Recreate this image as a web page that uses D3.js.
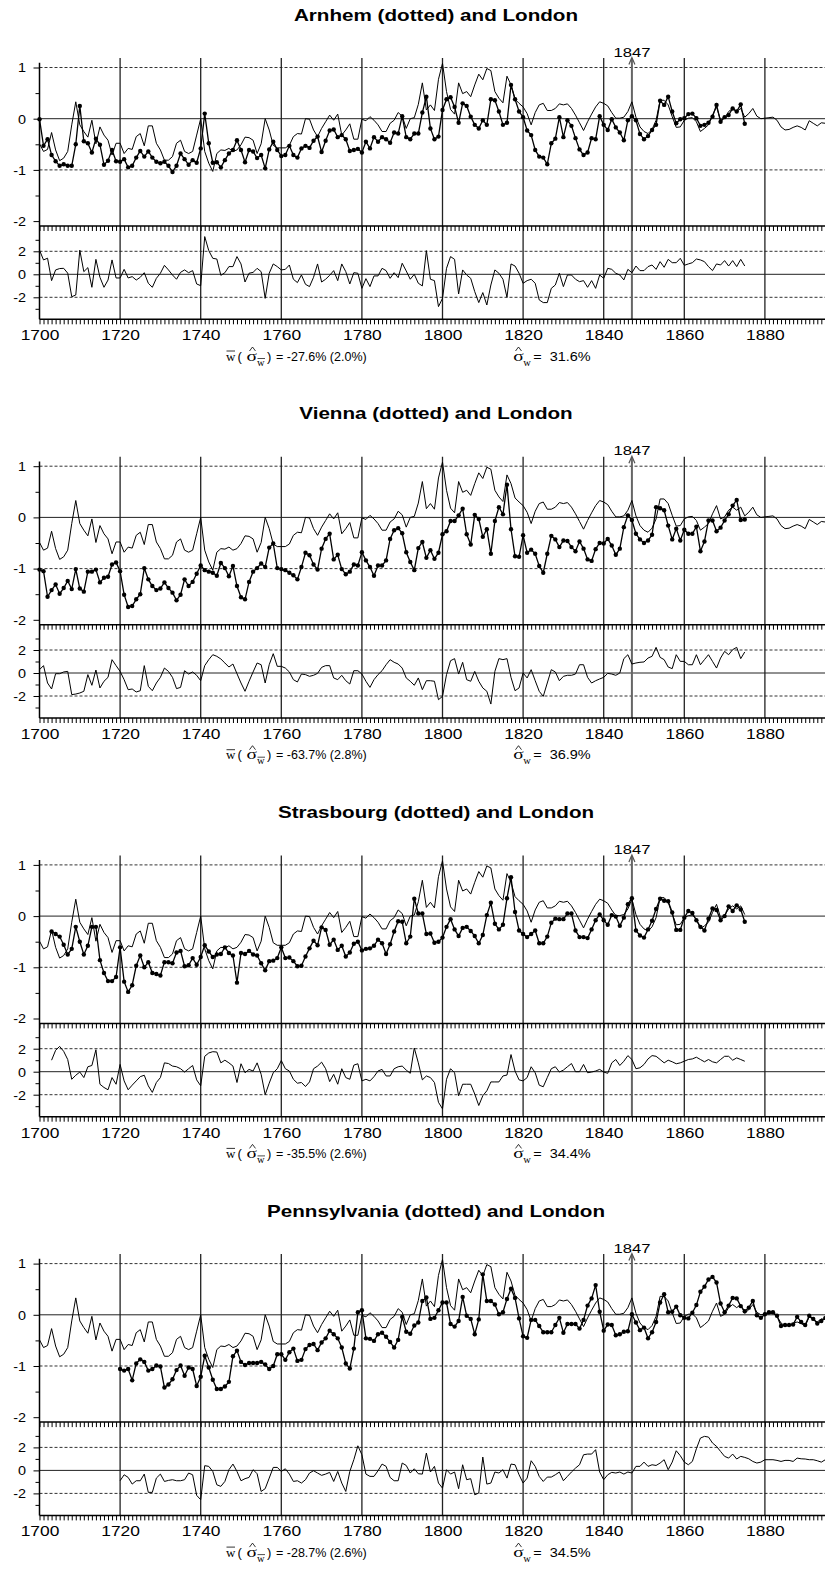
<!DOCTYPE html>
<html>
<head>
<meta charset="utf-8">
<script src="https://cdnjs.cloudflare.com/ajax/libs/d3/7.8.5/d3.min.js"></script>
<style>
  body { margin: 0; background: #fff; }
  svg { display: block; }
  text { font-family: "Liberation Sans", Arial, Helvetica, sans-serif; fill: #000; }
  .serif { font-family: "Liberation Serif", "Times New Roman", serif; }
</style>
</head>
<body>
<div id="chart"></div>
<script>
// London, yearly from 1700 (log deviation, thin line in every panel)
var londonStart = 1700;
var london = [
  -0.49, -0.64, -0.60, -0.27, -0.61, -0.82, -0.77, -0.64, -0.12, 0.33,
  -0.12, -0.25, -0.36, -0.03, -0.49, -0.16, -0.32, -0.42, -0.71, -0.48,
  -0.48, -0.68, -0.58, -0.60, -0.35, -0.29, -0.53, -0.14, -0.14, -0.48,
  -0.61, -0.81, -0.81, -0.74, -0.48, -0.42, -0.64, -0.68, -0.64, -0.32,
  0.00, -0.64, -0.87, -1.03, -0.68, -0.61, -0.62, -0.58, -0.64, -0.61,
  -0.51, -0.36, -0.37, -0.42, -0.68, -0.49, 0.00, -0.22, -0.52, -0.57,
  -0.57, -0.57, -0.52, -0.35, -0.29, -0.30, 0.00, -0.01, -0.22, -0.35,
  -0.19, -0.06, 0.07, -0.03, 0.09, -0.32, -0.22, -0.10, -0.40, -0.40,
  -0.01, -0.04, 0.04, -0.03, -0.12, -0.25, -0.25, -0.09, -0.03, 0.12,
  0.05, -0.19, 0.00, 0.02, 0.28, 0.70, 0.17, 0.27, 0.16, 0.77,
  1.08, 0.53, 0.18, 0.09, 0.70, 0.49, 0.53, 0.43, 0.66, 0.87,
  0.76, 0.98, 0.94, 0.53, 0.40, 0.31, 0.83, 0.66, 0.38, 0.30,
  0.23, 0.10, -0.12, 0.12, 0.27, 0.30, 0.16, 0.16, 0.20, 0.29,
  0.27, 0.29, 0.20, 0.07, -0.08, -0.23, -0.06, 0.09, 0.23, 0.33,
  0.30, 0.25, 0.12, 0.01, 0.01, 0.03, 0.14, 0.33, 0.03, -0.16,
  -0.25, -0.29, -0.21, -0.03, 0.36, 0.36, 0.27, 0.04, -0.17, -0.16,
  -0.03, 0.01, 0.02, -0.06, -0.25, -0.19, -0.12, 0.07, 0.23, -0.03,
  0.01, 0.14, 0.20, 0.14, 0.20, 0.03, 0.10, 0.20, 0.05, 0.00,
  0.01, 0.02, 0.03, -0.03, -0.16, -0.22, -0.21, -0.17, -0.14, -0.17,
  -0.22, -0.04, -0.09, -0.14, -0.08, -0.09
];

// Arnhem
var arnhemStart = 1700;
var arnhem = [
  -0.01, -0.53, -0.40, -0.71, -0.83, -0.92, -0.89, -0.92, -0.92, -0.50,
  0.25, -0.44, -0.48, -0.66, -0.39, -0.51, -0.90, -0.82, -0.61, -0.83,
  -0.84, -0.79, -0.95, -0.92, -0.76, -0.63, -0.74, -0.64, -0.76, -0.84,
  -0.87, -0.84, -0.92, -1.04, -0.92, -0.68, -0.79, -0.90, -0.81, -0.86,
  -0.58, 0.10, -0.48, -0.86, -0.85, -0.95, -0.81, -0.68, -0.61, -0.42,
  -0.61, -0.85, -0.61, -0.64, -0.77, -0.71, -0.97, -0.60, -0.45, -0.61,
  -0.73, -0.71, -0.53, -0.71, -0.76, -0.58, -0.53, -0.57, -0.43, -0.35,
  -0.65, -0.43, -0.23, -0.21, -0.36, -0.32, -0.40, -0.63, -0.61, -0.59,
  -0.66, -0.45, -0.58, -0.36, -0.45, -0.36, -0.40, -0.47, -0.27, -0.29,
  0.05, -0.36, -0.40, -0.29, -0.29, 0.12, 0.43, -0.19, -0.40, -0.35,
  0.17, 0.38, 0.42, 0.23, -0.08, 0.30, 0.25, 0.04, -0.12, -0.19,
  -0.03, -0.12, 0.38, 0.36, 0.14, -0.12, -0.08, 0.66, 0.38, 0.14,
  0.03, -0.23, -0.32, -0.61, -0.74, -0.76, -0.89, -0.48, -0.39, 0.03,
  -0.36, -0.03, -0.14, -0.38, -0.60, -0.71, -0.66, -0.38, -0.40, 0.05,
  -0.12, -0.22, -0.01, -0.17, -0.27, -0.42, -0.03, 0.05, -0.03, -0.30,
  -0.40, -0.34, -0.22, -0.12, 0.35, 0.27, 0.43, 0.14, -0.09, -0.01,
  0.01, 0.09, 0.10, 0.01, -0.14, -0.12, -0.08, 0.04, 0.27, -0.06,
  0.03, 0.07, 0.20, 0.14, 0.28, -0.10
];
var arnhemDiff = [
  2.10, 1.25, 1.40, -0.55, 0.38, 0.50, 0.52, 0.10, -1.95, -1.80,
  2.10, 0.23, 0.58, -1.13, 1.30, -0.26, -1.13, -0.50, 1.25, -0.32,
  -0.32, 0.43, -0.32, -0.20, -0.50, -0.26, 0.14, -0.78, -1.13, -0.35,
  0.09, 0.78, 0.38, -0.06, -0.43, 0.17, 0.38, 0.14, 0.32, -0.84,
  -0.99, 3.28, 2.06, 1.39, 1.33, -0.09, 0.14, 0.67, 0.67, 1.54,
  0.90, -0.67, 0.09, 0.17, 0.52, 0.23, -2.09, 0.09, 0.90, 0.67,
  0.38, 0.43, 0.81, -0.43, -0.72, -0.06, -0.87, -1.07, -0.26, 0.90,
  -0.67, -0.43, -0.09, 0.32, -0.55, 0.90, 0.23, -0.84, 0.14, 0.09,
  -1.22, -0.38, -1.07, -0.14, -0.14, 0.52, 0.32, -0.35, 0.14, -0.29,
  0.96, 0.29, -0.43, 0.00, -0.78, -1.01, 2.06, -0.43, -0.55, -2.81,
  -2.09, 0.52, 1.54, 1.30, -1.71, 0.38, -0.06, -0.35, -1.51, -2.46,
  -1.59, -2.67, -0.93, 0.38, 0.09, -0.43, -2.00, 0.90, 0.72, 0.09,
  -0.78, -0.55, -0.43, -0.78, -2.23, -2.46, -2.46, -1.22, -0.93, 0.09,
  -1.07, -0.06, -0.06, -0.43, -0.64, -0.55, -1.13, -0.55, -1.22, -0.06,
  -0.35, 0.52, 0.43, 0.09, -0.06, -0.49, 0.43, 0.14, 0.72, 0.32,
  0.32, 0.67, 0.81, 0.43, 1.10, 0.61, 1.30, 1.01, 1.01, 1.39,
  0.78, 0.90, 1.01, 1.33, 1.25, 1.10, 0.67, 0.32, 0.90, 0.81,
  1.19, 0.72, 1.19, 0.67, 1.30, 0.72
];

// Vienna
var viennaStart = 1700;
var vienna = [
  -1.02, -1.05, -1.55, -1.42, -1.31, -1.49, -1.38, -1.24, -1.40, -1.01,
  -1.39, -1.45, -1.06, -1.06, -1.02, -1.27, -1.18, -1.16, -0.92, -0.88,
  -1.05, -1.51, -1.75, -1.73, -1.60, -1.50, -0.99, -1.21, -1.34, -1.42,
  -1.39, -1.27, -1.38, -1.47, -1.62, -1.51, -1.21, -1.34, -1.26, -1.10,
  -0.94, -1.03, -1.06, -1.08, -1.14, -0.89, -0.99, -1.15, -0.95, -1.34,
  -1.56, -1.60, -1.26, -1.06, -0.99, -0.90, -0.97, -0.59, -0.51, -0.99,
  -1.01, -1.03, -1.08, -1.13, -1.21, -0.97, -0.69, -0.74, -0.92, -1.02,
  -0.61, -0.42, -0.32, -0.82, -0.73, -1.01, -1.11, -1.06, -0.92, -0.94,
  -0.68, -0.84, -0.97, -1.14, -0.94, -0.94, -0.84, -0.42, -0.25, -0.21,
  -0.31, -0.68, -0.87, -1.03, -0.60, -0.48, -0.79, -0.64, -0.81, -0.69,
  -0.33, -0.27, -0.07, -0.07, 0.04, 0.17, -0.33, -0.53, 0.05, -0.03,
  -0.38, -0.23, -0.71, -0.07, 0.20, 0.06, 0.64, -0.23, -0.76, -0.77,
  -0.35, -0.69, -0.63, -0.71, -0.95, -1.08, -0.71, -0.36, -0.43, -0.58,
  -0.45, -0.46, -0.58, -0.66, -0.47, -0.61, -0.82, -0.85, -0.62, -0.50,
  -0.51, -0.42, -0.55, -0.73, -0.61, -0.19, 0.04, -0.05, -0.32, -0.43,
  -0.50, -0.45, -0.34, 0.20, 0.18, 0.14, -0.16, -0.43, -0.22, -0.45,
  -0.24, -0.32, -0.32, -0.18, -0.66, -0.47, -0.06, -0.06, -0.27, -0.20,
  -0.06, 0.06, 0.23, 0.34, -0.05, -0.04
];
var viennaDiff = [
  0.29, 0.64, -0.87, -1.39, -0.06, -0.06, 0.09, 0.14, -1.88, -1.83,
  -1.74, -1.59, -0.14, -1.07, 0.26, -1.30, -0.72, -0.38, 1.16, 0.64,
  0.14, -0.58, -1.45, -1.39, -1.65, -1.54, 0.64, -1.16, -1.54, -0.87,
  -0.38, 0.43, 0.14, -0.38, -1.36, -1.25, 0.20, -0.09, 0.09, -0.20,
  -0.67, 0.64, 1.16, 1.59, 1.45, 1.22, 0.87, 0.52, 0.78, -0.06,
  -0.87, -1.59, -0.72, 0.09, 0.87, 0.72, -0.87, 0.72, 1.68, 0.58,
  0.58, 0.43, 0.09, -0.58, -0.78, -0.09, -0.14, -0.29, -0.20, -0.03,
  0.49, 0.64, 0.64, -0.43, -0.58, -0.20, -0.67, -0.96, 0.20, 0.20,
  -0.09, -0.72, -1.25, -0.58, -0.14, 0.20, 0.72, 1.16, 0.93, 0.78,
  0.43, -0.43, -0.72, -1.07, -0.43, -1.45, -0.67, -0.67, -0.72, -2.32,
  -2.03, -0.14, 1.07, 1.25, -0.09, 0.93, -0.58, -0.72, 0.14, -0.72,
  -1.30, -1.59, -2.70, 0.14, 1.25, 1.16, 1.25, -0.38, -1.54, -1.30,
  0.00, -0.43, 0.29, -0.67, -1.59, -2.03, -0.87, 0.29, 0.09, -0.67,
  -0.29, -0.20, -0.20, -0.09, 0.72, 0.72, -0.38, -0.87, -0.67, -0.52,
  -0.38, -0.03, -0.09, -0.20, 0.00, 1.25, 1.59, 0.78, 0.87, 0.93,
  0.96, 1.30, 1.45, 2.23, 1.36, 1.16, 0.52, 0.38, 1.59, 1.01,
  1.01, 0.72, 0.72, 1.59, 0.72, 1.16, 1.59, 1.01, 0.43, 1.30,
  1.88, 1.59, 2.03, 2.23, 1.25, 1.83
];

// Strasbourg
var strasbourgStart = 1703;
var strasbourg = [
  -0.30, -0.35, -0.40, -0.56, -0.75, -0.64, -0.21,
  -0.50, -0.75, -0.58, -0.21, -0.21, -0.86, -1.11, -1.27, -1.27, -1.19,
  -0.61, -1.28, -1.48, -1.35, -0.97, -0.77, -1.00, -0.90, -1.11, -1.13,
  -1.16, -0.90, -0.90, -0.92, -0.71, -0.68, -0.98, -0.96, -0.82, -0.95,
  -0.80, -0.57, -0.69, -0.80, -0.75, -0.74, -0.61, -0.72, -0.77, -1.30,
  -0.72, -0.74, -0.68, -0.75, -0.77, -0.92, -1.06, -0.88, -0.87, -0.82,
  -0.61, -0.82, -0.81, -0.88, -0.98, -0.97, -0.79, -0.63, -0.48, -0.57,
  -0.22, -0.27, -0.56, -0.46, -0.66, -0.58, -0.79, -0.71, -0.54, -0.50,
  -0.67, -0.64, -0.63, -0.58, -0.46, -0.53, -0.74, -0.55, -0.30, -0.10,
  -0.11, -0.53, -0.40, 0.34, 0.05, 0.05, -0.35, -0.34, -0.52, -0.50,
  -0.42, -0.21, -0.06, -0.26, -0.39, -0.23, -0.21, -0.29, -0.39, -0.53,
  -0.37, 0.02, 0.26, -0.15, -0.26, -0.17, 0.35, 0.76, 0.08, -0.28,
  -0.35, -0.41, -0.35, -0.28, -0.53, -0.53, -0.40, -0.13, -0.05, -0.06,
  -0.06, 0.05, 0.05, -0.28, -0.41, -0.41, -0.43, -0.26, -0.08, 0.03,
  -0.08, -0.17, 0.02, -0.01, -0.19, -0.03, 0.23, 0.35, -0.28, -0.38,
  -0.42, -0.26, -0.09, 0.14, 0.34, 0.30, 0.29, 0.07, -0.27, -0.27,
  -0.03, 0.10, 0.06, -0.08, -0.21, -0.28, -0.05, 0.15, 0.12, -0.08,
  0.00, 0.19, 0.10, 0.21, 0.13, -0.11
];
var strasbourgDiff = [
  1.00, 1.86, 2.20, 1.77, 1.06, -0.66, -0.31,
  -0.03, -0.51, 0.43, 0.54, 1.91, -1.09, -1.37, -1.57, -0.51, -1.09,
  0.63, -0.80, -1.57, -1.17, -0.80, -0.43, -0.31, -1.23, -1.80, -0.94,
  -0.51, 0.77, 0.71, 0.49, 0.43, 0.26, -0.03, 0.26, 0.54, -0.71,
  -1.23, 1.34, 1.63, 1.74, 1.71, 0.77, 1.00, 0.77, 0.49, -0.94,
  0.69, -0.09, 0.20, 0.06, 0.77, -0.23, -2.00, -1.00, -0.09, 0.26,
  0.97, 0.26, 0.06, -0.66, -1.00, -0.94, -1.29, -0.89, 0.26, 0.49,
  0.83, 0.26, -0.86, -0.23, -1.09, 0.26, -0.51, -0.66, 0.57, 0.69,
  -0.80, -0.66, -0.80, -0.43, 0.06, 0.20, -0.37, -0.37, 0.26, 0.43,
  0.49, 0.14, -0.14, 2.06, 0.77, -0.71, -0.37, -0.51, -0.94, -2.66,
  -3.23, -0.66, 0.26, -0.09, -2.09, -1.09, -1.09, -1.09, -1.94, -2.94,
  -2.09, -1.66, -0.89, -0.89, -0.89, -0.37, -0.29, 1.49, 0.06, -0.71,
  -0.80, -0.51, 0.43, -0.09, -1.17, -1.31, -0.51, 0.26, 0.43, -0.03,
  0.14, 0.43, 0.71, 0.00, 0.00, 0.63, -0.09, -0.03, 0.06, 0.20,
  -0.03, -0.14, 0.77, 1.06, 0.54, 0.91, 1.40, 1.06, 0.26, 0.34,
  0.63, 1.11, 1.40, 1.34, 1.06, 0.77, 1.00, 0.86, 0.69, 0.77,
  0.91, 1.06, 1.11, 1.26, 1.06, 0.86, 1.06, 0.86, 0.77, 1.06,
  1.34, 1.34, 1.00, 1.20, 1.06, 0.91
];

// Pennsylvania
var pennStart = 1720;
var penn = [
  -1.06, -1.09, -1.06, -1.28, -0.95, -0.87, -0.92, -1.09, -1.06, -0.99,
  -1.01, -1.42, -1.36, -1.26, -1.08, -0.99, -1.19, -1.03, -1.06, -1.39,
  -1.21, -0.80, -1.03, -1.27, -1.45, -1.45, -1.40, -1.31, -0.81, -0.70,
  -0.92, -0.98, -0.94, -0.94, -0.94, -0.92, -0.97, -1.06, -1.00, -0.77,
  -0.77, -0.88, -0.73, -0.66, -0.90, -0.88, -0.67, -0.59, -0.57, -0.69,
  -0.54, -0.46, -0.31, -0.38, -0.46, -0.64, -0.95, -1.05, -0.66, 0.05,
  0.09, -0.46, -0.47, -0.51, -0.38, -0.35, -0.43, -0.53, -0.64, -0.49,
  -0.04, -0.33, -0.37, -0.21, -0.15, 0.27, 0.34, -0.08, -0.06, 0.09,
  0.24, 0.24, -0.18, -0.23, -0.12, 0.35, -0.02, -0.08, -0.38, -0.09,
  0.79, 0.27, 0.27, 0.20, 0.01, 0.05, 0.31, 0.51, 0.33, -0.07,
  -0.42, -0.45, -0.10, -0.10, -0.22, -0.34, -0.34, -0.34, -0.20, -0.06,
  -0.35, -0.18, -0.18, -0.18, -0.27, -0.10, 0.18, 0.32, 0.58, 0.06,
  -0.31, -0.19, -0.20, -0.40, -0.38, -0.33, -0.32, 0.01, -0.15, -0.30,
  -0.25, -0.46, -0.34, -0.14, 0.24, 0.40, 0.05, 0.06, 0.16, -0.01,
  -0.06, -0.07, 0.04, 0.19, 0.45, 0.55, 0.69, 0.74, 0.63, 0.22,
  0.05, 0.18, 0.33, 0.32, 0.17, 0.07, 0.14, 0.27, -0.01, -0.06,
  0.01, 0.05, 0.05, -0.02, -0.22, -0.20, -0.20, -0.19, -0.04, -0.14,
  -0.20, -0.02, -0.08, -0.17, -0.12, -0.06
];
var pennDiff = [
  -0.90, -0.38, -0.61, -1.19, -0.90, -0.90, -0.32, -1.91, -1.91, -0.67,
  -0.32, -0.96, -0.87, -0.81, -0.90, -0.90, -0.81, -0.23, -0.38, -2.17,
  -2.55, 0.41, 0.35, -0.09, -1.25, -1.39, -0.96, 0.06, 0.55, -0.09,
  -0.90, -0.72, -0.61, 0.06, -0.29, -1.83, -1.59, -0.67, 0.26, 0.26,
  -0.09, 0.14, -0.32, -0.96, -0.90, -1.10, -0.81, -0.23, -0.03, -0.23,
  -0.43, -0.32, -0.17, -0.96, -0.09, -1.10, -1.83, -0.09, 0.93, 2.14,
  1.36, -0.32, -0.52, -0.52, -0.03, 0.55, 0.35, -0.61, -0.90, -0.90,
  0.64, 0.43, -0.23, 0.14, -0.29, -0.32, 1.51, -0.14, 0.35, -1.10,
  -1.54, 0.06, -0.32, -0.14, -1.59, 0.49, -0.81, -0.72, -2.12, -1.97,
  1.16, -1.19, -1.10, -0.14, -0.23, 0.06, -0.67, 0.55, 0.49, -0.38,
  -1.10, -0.67, 0.84, 0.35, -0.52, -0.96, -0.58, -0.58, -0.38, -0.14,
  -0.90, -0.52, -0.14, 0.20, 0.49, 1.36, 1.42, 1.42, 1.80, -0.14,
  -0.81, -0.38, -0.17, -0.23, -0.14, -0.32, -0.14, -0.23, 0.35, 0.35,
  0.72, 0.35, 0.49, 0.43, 0.64, 0.93, 0.06, 0.72, 1.71, 1.28,
  0.72, 0.49, 0.78, 1.88, 2.81, 2.96, 2.90, 2.38, 2.09, 1.65,
  1.22, 1.07, 1.42, 0.99, 1.22, 1.13, 1.01, 0.78, 0.64, 0.72,
  0.93, 0.93, 0.93, 0.87, 0.78, 0.87, 0.87, 0.78, 1.07, 1.01,
  0.99, 0.93, 0.93, 0.84, 0.72, 0.93
];

// Texts
var titles = ["Arnhem (dotted) and London", "Vienna (dotted) and London",
              "Strasbourg (dotted) and London", "Pennsylvania (dotted) and London"];
var meanText = ["= -27.6% (2.0%)", "= -63.7% (2.8%)", "= -35.5% (2.6%)", "= -28.7% (2.6%)"];
var sdText = ["=  31.6%", "=  36.9%", "=  34.4%", "=  34.5%"];
var yearLabels = [1700, 1720, 1740, 1760, 1780, 1800, 1820, 1840, 1860, 1880];
var vLineYears = [1720, 1740, 1760, 1780, 1800, 1820, 1840, 1860, 1880];
var markYear = 1847;

// Layout
var svgWidth = 825;
var svgHeight = 1576;
var panelStep = 398.7;
var xLeft = 39.5;
var gridTop = 58;
var upperTop = 62.7;
var sepY = 226;
var bottomY = 319.3;

var x = d3.scaleLinear().domain([1700, 1895]).range([xLeft, xLeft + 195 * 4.03]);
var yUpper = d3.scaleLinear().domain([-1, 1]).range([169.9, 67.5]);
var yLower = d3.scaleLinear().domain([-2, 2]).range([297.3, 251.3]);

var panels = [
  {title: titles[0], start: arnhemStart, values: arnhem, diff: arnhemDiff, londonEnd: 1895, upper1880: true},
  {title: titles[1], start: viennaStart, values: vienna, diff: viennaDiff, londonEnd: 1895, upper1880: true},
  {title: titles[2], start: strasbourgStart, values: strasbourg, diff: strasbourgDiff, londonEnd: 1875, upper1880: false},
  {title: titles[3], start: pennStart, values: penn, diff: pennDiff, londonEnd: 1895, upper1880: true}
];

function toPoints(start, arr) {
  return arr.map(function(v, i) { return {year: start + i, v: v}; });
}

// text with a horizontal stretch (the source font is wider than ours)
function stretchText(g, str, tx, ty, size, sx, anchor) {
  return g.append("text")
    .attr("transform", "translate(" + tx + "," + ty + ") scale(" + sx + ",1)")
    .attr("text-anchor", anchor || "start")
    .style("font-size", size + "px")
    .text(str);
}

var svg = d3.select("#chart")
  .append("svg")
  .attr("width", svgWidth)
  .attr("height", svgHeight);

var upperLine = d3.line().x(function(d) { return x(d.year); }).y(function(d) { return yUpper(d.v); });
var lowerLine = d3.line().x(function(d) { return x(d.year); }).y(function(d) { return yLower(d.v); });

panels.forEach(function(p, i) {
  var g = svg.append("g").attr("transform", "translate(0," + (i * panelStep) + ")");

  // title
  stretchText(g, p.title, 436, 20.5, 16, 1.29, "middle").style("font-weight", "bold");

  // dashed reference lines
  [1, -1].forEach(function(v) {
    g.append("line").attr("x1", xLeft).attr("x2", svgWidth)
      .attr("y1", yUpper(v)).attr("y2", yUpper(v))
      .attr("stroke", "#333").attr("stroke-dasharray", "3,2");
  });
  [2, -2].forEach(function(v) {
    g.append("line").attr("x1", xLeft).attr("x2", svgWidth)
      .attr("y1", yLower(v)).attr("y2", yLower(v))
      .attr("stroke", "#333").attr("stroke-dasharray", "3,2");
  });
  // zero lines
  g.append("line").attr("x1", xLeft).attr("x2", svgWidth)
    .attr("y1", yUpper(0)).attr("y2", yUpper(0)).attr("stroke", "#222");
  g.append("line").attr("x1", xLeft).attr("x2", svgWidth)
    .attr("y1", yLower(0)).attr("y2", yLower(0)).attr("stroke", "#222");

  // vertical year lines
  vLineYears.forEach(function(yr) {
    var top = (yr === 1880 && !p.upper1880) ? sepY : gridTop;
    g.append("line").attr("x1", x(yr)).attr("x2", x(yr))
      .attr("y1", top).attr("y2", bottomY)
      .attr("stroke", "#222").attr("stroke-width", 1.3);
  });

  // 1847 marker with arrow
  g.append("line").attr("x1", x(markYear)).attr("x2", x(markYear))
    .attr("y1", 58.5).attr("y2", bottomY)
    .attr("stroke", "#666").attr("stroke-width", 2);
  g.append("path")
    .attr("d", "M" + (x(markYear) - 3) + ",64.5L" + x(markYear) + ",57.5L" + (x(markYear) + 3) + ",64.5")
    .attr("fill", "none").attr("stroke", "#555").attr("stroke-width", 1.2);
  stretchText(g, String(markYear), x(markYear), 56.5, 13, 1.28, "middle");

  // left axis line
  g.append("line").attr("x1", xLeft).attr("x2", xLeft)
    .attr("y1", upperTop).attr("y2", bottomY)
    .attr("stroke", "#000").attr("stroke-width", 1.5);

  // left ticks (upper)
  var upAxis = g.append("g").attr("transform", "translate(" + xLeft + ",0)")
    .call(d3.axisLeft(yUpper).tickValues([-2, -1, 0, 1]).tickSize(6).tickFormat(function(d) { return String(d); }));
  upAxis.select(".domain").remove();
  g.append("g").attr("transform", "translate(" + xLeft + ",0)")
    .call(d3.axisLeft(yUpper).tickValues([0.5, -0.5, -1.5]).tickSize(4).tickFormat(""))
    .select(".domain").remove();

  // left ticks (lower)
  var lowAxis = g.append("g").attr("transform", "translate(" + xLeft + ",0)")
    .call(d3.axisLeft(yLower).tickValues([-2, 0, 2]).tickSize(6).tickFormat(function(d) { return String(d); }));
  lowAxis.select(".domain").remove();
  g.append("g").attr("transform", "translate(" + xLeft + ",0)")
    .call(d3.axisLeft(yLower).tickValues([-3, -1, 1, 3]).tickSize(4).tickFormat(""))
    .select(".domain").remove();

  [upAxis, lowAxis].forEach(function(a) {
    a.selectAll("text")
      .attr("x", -11.2).attr("dy", null).attr("y", 4.3)
      .attr("transform", "scale(1.2,1)")
      .style("font-size", "12px")
      .style("font-family", "'Liberation Sans', Arial, sans-serif");
  });

  // separator between the two plots with yearly ticks
  g.append("line").attr("x1", xLeft).attr("x2", svgWidth)
    .attr("y1", sepY).attr("y2", sepY).attr("stroke", "#000").attr("stroke-width", 1.5);
  g.append("g").attr("transform", "translate(0," + sepY + ")")
    .call(d3.axisBottom(x).tickValues(d3.range(1700, 1896)).tickSize(5).tickFormat(""))
    .select(".domain").remove();

  // bottom axis with yearly ticks
  g.append("line").attr("x1", xLeft).attr("x2", svgWidth)
    .attr("y1", bottomY).attr("y2", bottomY).attr("stroke", "#000").attr("stroke-width", 1.5);
  g.append("g").attr("transform", "translate(0," + bottomY + ")")
    .call(d3.axisBottom(x).tickValues(d3.range(1700, 1896)).tickSize(5).tickFormat(""))
    .select(".domain").remove();
  var xLab = g.append("g").attr("transform", "translate(0," + bottomY + ")")
    .call(d3.axisBottom(x).tickValues(yearLabels).tickSize(0).tickFormat(d3.format("d")));
  xLab.select(".domain").remove();
  xLab.selectAll("text")
    .attr("y", 21).attr("dy", null)
    .attr("transform", "scale(1.2,1)")
    .style("font-size", "14.5px")
    .style("font-family", "'Liberation Sans', Arial, sans-serif");

  g.selectAll(".tick line").attr("stroke", "#000");

  // London (thin line)
  var lon = toPoints(londonStart, london).filter(function(d) { return d.year <= p.londonEnd; });
  g.append("path").datum(lon)
    .attr("d", upperLine).attr("fill", "none")
    .attr("stroke", "#000").attr("stroke-width", 1);

  // city (dotted)
  var city = toPoints(p.start, p.values);
  g.append("path").datum(city)
    .attr("d", upperLine).attr("fill", "none")
    .attr("stroke", "#000").attr("stroke-width", 1.3);
  g.selectAll(".dot").data(city).enter()
    .append("circle").attr("class", "dot")
    .attr("cx", function(d) { return x(d.year); })
    .attr("cy", function(d) { return yUpper(d.v); })
    .attr("r", 2.2).attr("fill", "#000");

  // lower series
  g.append("path").datum(toPoints(p.start, p.diff))
    .attr("d", lowerLine).attr("fill", "none")
    .attr("stroke", "#000").attr("stroke-width", 1);

  // statistics line
  var by = 360.5;
  g.append("text").attr("class", "serif").attr("x", 226).attr("y", by)
    .style("font-size", "13px").text("w");
  g.append("line").attr("x1", 226.5).attr("x2", 235).attr("y1", 351).attr("y2", 351)
    .attr("stroke", "#000").attr("stroke-width", 0.8);
  g.append("text").attr("x", 237.5).attr("y", by).style("font-size", "13px").text("(");
  stretchText(g, "\u03c3", 246.5, by, 15, 1.3).attr("class", "serif");
  g.append("path").attr("d", "M249.5,351L252.5,347L255.5,351")
    .attr("fill", "none").attr("stroke", "#000").attr("stroke-width", 0.8);
  g.append("text").attr("class", "serif").attr("x", 257).attr("y", 365.5)
    .style("font-size", "10.5px").text("w");
  g.append("line").attr("x1", 257.5).attr("x2", 265).attr("y1", 358.5).attr("y2", 358.5)
    .attr("stroke", "#000").attr("stroke-width", 0.7);
  g.append("text").attr("x", 267).attr("y", by).style("font-size", "13px").text(")");
  g.append("text").attr("x", 276).attr("y", by).style("font-size", "12.5px")
    .attr("textLength", 90.7).attr("lengthAdjust", "spacingAndGlyphs")
    .text(meanText[i]);

  stretchText(g, "\u03c3", 513.3, by, 15, 1.3).attr("class", "serif");
  g.append("path").attr("d", "M515.5,351L518.5,347L521.5,351")
    .attr("fill", "none").attr("stroke", "#000").attr("stroke-width", 0.8);
  g.append("text").attr("class", "serif").attr("x", 523.3).attr("y", 365.5)
    .style("font-size", "10.5px").text("w");
  g.append("text").attr("x", 533.3).attr("y", by).style("font-size", "12.5px")
    .attr("textLength", 57.4).attr("lengthAdjust", "spacingAndGlyphs")
    .style("white-space", "pre")
    .text(sdText[i]);
});
</script>
</body>
</html>
